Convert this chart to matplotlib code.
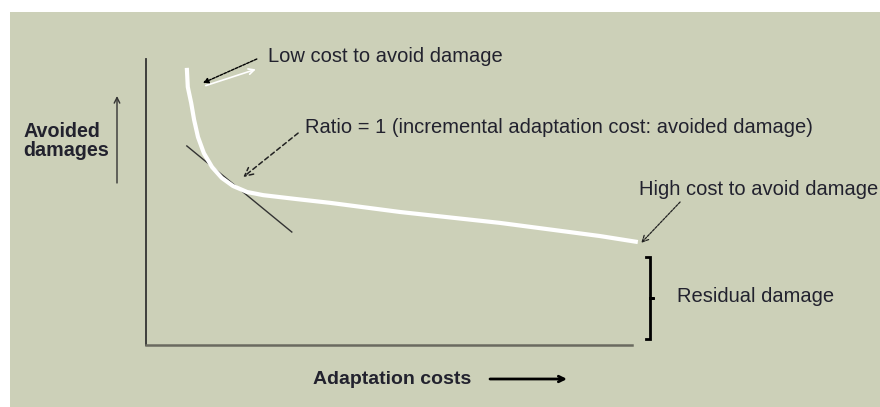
import matplotlib
matplotlib.use('Agg')
import matplotlib.pyplot as plt
from matplotlib.patches import Rectangle

plt.rcParams['font.family'] = ['Liberation Sans', 'DejaVu Sans']

# curve (adaptation cost vs avoided damage, arbitrary units)
cost = [8.4, 8.6, 9.3, 9.9, 10.7, 11.9, 13.6, 15.6, 17.9, 20.8, 24.1, 31.1, 37.9,
        52.3, 72.8, 93.4, 101.2]
avoided = [96.9, 90.2, 84.6, 78.7, 72.7, 67.1, 62.2, 58.4, 55.6, 53.5, 52.4, 51.0, 49.7,
           46.5, 42.7, 38.1, 36.0]

# tangent line where ratio = 1
tangent_x = [8.4, 30.0]
tangent_y = [69.6, 39.5]

# residual damage brace
brace_x = [102.9, 103.7, 103.7, 104.5, 103.7, 103.7, 102.9]
brace_y = [30.8, 30.8, 16.4, 16.4, 16.4, 2.1, 2.1]

bg = '#ccd0b8'
txt = '#22222e'
W, H = 880, 407

fig = plt.figure(figsize=(8.8, 4.07), dpi=100, facecolor='white')
fig.patches.append(Rectangle((10 / W, 0), 1, 1 - 12 / H, transform=fig.transFigure,
                             facecolor=bg, edgecolor='none', zorder=-10))

ax = fig.add_axes([146 / W, (H - 345) / H, 486 / W, 286 / H])
ax.set_xlim(0, 100)
ax.set_ylim(0, 100)
ax.patch.set_alpha(0)
for s in ['top', 'right']:
    ax.spines[s].set_visible(False)
ax.spines['left'].set_color('#333333')
ax.spines['left'].set_linewidth(1.3)
ax.spines['bottom'].set_color('#6a6a60')
ax.spines['bottom'].set_linewidth(1.8)
ax.set_xticks([])
ax.set_yticks([])

ax.plot(tangent_x, tangent_y, color='#333333', lw=1.0, clip_on=False)
ax.plot(cost, avoided, color='white', lw=3, solid_capstyle='butt',
        solid_joinstyle='round', clip_on=False)
ax.plot(brace_x, brace_y, color='black', lw=2, clip_on=False, solid_joinstyle='miter')

fs = 14.5
# low cost annotation (double arrow: white one under the dashed black one)
ax.annotate('', xy=(22.6, 96.4), xytext=(12.3, 90.7), annotation_clip=False,
            arrowprops=dict(arrowstyle='->', color='white', lw=1.2, shrinkA=0, shrinkB=0))
ax.annotate('', xy=(11.7, 91.6), xytext=(22.8, 100.0), annotation_clip=False,
            arrowprops=dict(arrowstyle='-|>', color='black', lw=1.0, ls=(0, (2, 1)),
                            shrinkA=0, shrinkB=0, mutation_scale=8))
ax.text(25.1, 100.7, 'Low cost to avoid damage', fontsize=fs, color=txt, va='center')

ax.annotate('', xy=(20.0, 58.7), xytext=(31.3, 74.1), annotation_clip=False,
            arrowprops=dict(arrowstyle='->', color='#222222', lw=1.1, ls=(0, (3, 2)),
                            shrinkA=0, shrinkB=0, mutation_scale=15))
ax.text(32.7, 76.2, 'Ratio = 1 (incremental adaptation cost: avoided damage)',
        fontsize=fs, color=txt, va='center')

ax.annotate('', xy=(101.9, 35.7), xytext=(109.9, 50.0), annotation_clip=False,
            arrowprops=dict(arrowstyle='->', color='#222222', lw=0.9, ls=(0, (2, 1)),
                            shrinkA=0, shrinkB=0, mutation_scale=11))
ax.text(101.4, 54.2, 'High cost to avoid damage', fontsize=fs, color=txt, va='center')
ax.text(109.3, 16.8, 'Residual damage', fontsize=fs, color=txt, va='center')

# axis titles with arrows, outside the axes
fig.text(23 / W, 1 - 141 / H, 'Avoided\ndamages', fontsize=14.2, fontweight='bold',
         color=txt, va='center', ha='left', linespacing=1.0)
ax.annotate('', xy=(117 / W, 1 - 96 / H), xytext=(117 / W, 1 - 183 / H),
            xycoords='figure fraction', textcoords='figure fraction',
            arrowprops=dict(arrowstyle='->', color='#333333', lw=1.0, shrinkA=0, shrinkB=0))

fig.text(313 / W, 1 - 379 / H, 'Adaptation costs', fontsize=14, fontweight='bold',
         color=txt, va='center', ha='left')
ax.annotate('', xy=(567 / W, 1 - 379 / H), xytext=(490 / W, 1 - 379 / H),
            xycoords='figure fraction', textcoords='figure fraction',
            arrowprops=dict(arrowstyle='->', color='black', lw=2.0, shrinkA=0, shrinkB=0))

fig.savefig('out.png', dpi=100, facecolor='white')
